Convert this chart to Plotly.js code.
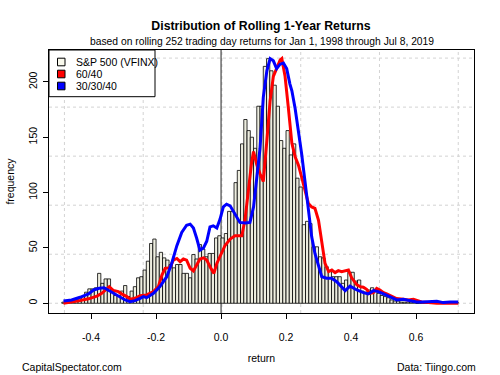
<!DOCTYPE html>
<html>
<head>
<meta charset="utf-8">
<script src="https://cdn.plot.ly/plotly-3.0.1.min.js"></script>
<style>html,body{margin:0;padding:0;background:#fff;}#chart{width:500px;height:375px;}</style>
</head>
<body>
<div id="chart"></div>
<script>
// Histogram bins (left edges, width 0.01) and S&P 500 (VFINX) counts
var binLeft = [
-0.49,-0.48,-0.47,-0.46,-0.45,-0.44,-0.43,-0.42,-0.41,-0.40,
-0.39,-0.38,-0.37,-0.36,-0.35,-0.34,-0.33,-0.32,-0.31,-0.30,
-0.29,-0.28,-0.27,-0.26,-0.25,-0.24,-0.23,-0.22,-0.21,-0.20,
-0.19,-0.18,-0.17,-0.16,-0.15,-0.14,-0.13,-0.12,-0.11,-0.10,
-0.09,-0.08,-0.07,-0.06,-0.05,-0.04,-0.03,-0.02,-0.01,0.00,
0.01,0.02,0.03,0.04,0.05,0.06,0.07,0.08,0.09,0.10,
0.11,0.12,0.13,0.14,0.15,0.16,0.17,0.18,0.19,0.20,
0.21,0.22,0.23,0.24,0.25,0.26,0.27,0.28,0.29,0.30,
0.31,0.32,0.33,0.34,0.35,0.36,0.37,0.38,0.39,0.40,
0.41,0.42,0.43,0.44,0.45,0.46,0.47,0.48,0.49,0.50,
0.51,0.52,0.53,0.54,0.55,0.56,0.57,0.58,0.59,0.60,
0.61,0.62,0.63,0.64,0.65,0.66,0.67,0.68,0.69,0.70,
0.71,0.72];
var spCounts = [
1,1,2,3,3,5,6,10,13,13,
14,27,18,22,22,12,7,7,11,16,
6,11,15,23,24,30,38,54,58,42,
46,41,39,35,32,35,35,27,27,23,
44,40,53,49,42,45,45,59,61,59,
63,83,83,109,120,144,166,156,150,140,
178,178,214,221,210,197,178,147,140,156,
134,144,113,105,71,74,72,51,51,42,
41,33,29,24,24,24,18,21,28,28,
20,21,11,10,12,14,12,9,7,6,
5,3,2,2,1,1,1,1,1,0,
0,0,0,0,0,0,0,0,0,0,
0,1];

// 60/40 portfolio frequency line
var r6040X = [-0.485,-0.46,-0.434,-0.408,-0.382,-0.367,-0.352,-0.344,-0.331,-0.316,-0.306,-0.29,-0.28,-0.265,-0.249,-0.229,-0.208,-0.193,-0.182,-0.172,-0.157,-0.147,-0.136,-0.126,-0.116,-0.106,-0.095,-0.085,-0.075,-0.065,-0.054,-0.044,-0.034,-0.022,-0.013,-0.003,0.012,0.028,0.043,0.058,0.064,0.074,0.084,0.094,0.1,0.11,0.12,0.13,0.141,0.151,0.161,0.171,0.182,0.187,0.197,0.207,0.218,0.228,0.238,0.248,0.258,0.269,0.279,0.289,0.3,0.31,0.32,0.331,0.341,0.351,0.361,0.371,0.382,0.392,0.402,0.418,0.428,0.438,0.448,0.458,0.469,0.479,0.489,0.5,0.51,0.525,0.54,0.561,0.576,0.592,0.602,0.617,0.638,0.664,0.695,0.73];
var r6040Y = [0,1,2.5,4,6.5,9,12.5,15,11.5,10.5,8.5,6,3.6,4.5,6.8,7.5,10.5,15,25.5,31.6,32.2,39,40.5,37.6,40,39,31.6,29.2,34.6,40,41,39,33,27,36,43,52,58,61,61,61,76,103,127,137,125,117,110,147,183,205,212,219.8,221,205,177,144.5,132.4,125,114,102,90,87,85.7,75,57,36,28.6,30,27.7,29.5,28.6,29,30,23,16.6,15,14.5,12.6,9,9.6,13.5,12,9.6,8.4,6,4.2,3.6,3,3.6,2.4,1.2,0.6,0,0,0];

// 30/30/40 portfolio frequency line
var r303040X = [-0.485,-0.46,-0.434,-0.408,-0.392,-0.375,-0.36,-0.342,-0.326,-0.311,-0.295,-0.28,-0.265,-0.249,-0.239,-0.229,-0.208,-0.188,-0.167,-0.152,-0.136,-0.121,-0.106,-0.095,-0.085,-0.075,-0.065,-0.054,-0.044,-0.034,-0.024,-0.013,-0.003,0.007,0.017,0.028,0.043,0.058,0.074,0.089,0.1,0.11,0.12,0.13,0.141,0.151,0.161,0.171,0.182,0.192,0.202,0.212,0.218,0.228,0.238,0.248,0.258,0.269,0.279,0.289,0.3,0.31,0.325,0.34,0.356,0.371,0.382,0.397,0.418,0.438,0.453,0.469,0.484,0.5,0.52,0.541,0.561,0.58,0.602,0.62,0.643,0.664,0.684,0.705,0.73];
var r303040Y = [2,3,5.4,8.5,12,13.5,14,11,8,6,3,1.5,2.4,4.5,6,5,9,15,24,36,52,64,70.5,71.5,68,58.7,48,50,56,69,70,68,76,87,89.5,88,81,73,72.5,73,87,113,140,186,210,221,219,212,216,217,212,198,192,176,156,135,111,84,60,45,33,24,22.6,22.6,19.5,15,11.4,15.5,12,9.6,8.4,11.4,10.5,8.4,5.4,3,3.6,2.4,1.2,1.2,1.2,1.8,0.6,1.2,1.2];

var xTickVals = [-0.4,-0.2,0,0.2,0.4,0.6];
var xTickText = ["-0.4","-0.2","0.0","0.2","0.4","0.6"];
var yTickVals = [0,50,100,150,200];
var yTickText = ["0","50","100","150","200"];
var gridX = [-0.482,-0.2396,0.0028,0.2452,0.4876,0.73];
var gridY = [0,44.3,88.6,132.9,177.2,221.5];

var legendNames = ["S&P 500 (VFINX)","60/40","30/30/40"];
var legendColors = ["#F8F8EC","#FF0000","#0000FF"];

var FONT = "Liberation Sans, Arial, sans-serif";

var traces = [
  {type:"bar", x:binLeft, y:spCounts, width:0.01, offset:0,
   marker:{color:"#EEEEE0", line:{color:"#000000", width:0.8}},
   showlegend:false, hoverinfo:"skip"},
  {type:"scatter", mode:"lines", x:r6040X, y:r6040Y,
   line:{color:"#FF0000", width:3}, showlegend:false},
  {type:"scatter", mode:"lines", x:r303040X, y:r303040Y,
   line:{color:"#0000FF", width:3}, showlegend:false}
];

var shapes = [];
gridX.forEach(function(v){
  shapes.push({type:"line", xref:"x", yref:"paper", x0:v, x1:v, y0:0, y1:1,
    line:{color:"#D3D3D3", width:1, dash:"dot"}, layer:"below"});
});
gridY.forEach(function(v){
  shapes.push({type:"line", xref:"paper", yref:"y", x0:0, x1:1, y0:v, y1:v,
    line:{color:"#D3D3D3", width:1, dash:"dot"}, layer:"below"});
});
shapes.push({type:"line", xref:"x", yref:"paper", x0:0, x1:0, y0:0, y1:1,
  line:{color:"#222222", width:1}, layer:"below"});

// manual legend (R-style)
var W = 425, H = 263;
shapes.push({type:"rect", xref:"paper", yref:"paper", x0:0, x1:106/W, y0:1-46.7/H, y1:1,
  line:{color:"#000000", width:1}, fillcolor:"#FFFFFF", layer:"above"});
var annotations = [];
var rowsY = [12, 24, 36];
for (var i=0;i<3;i++){
  var cy = 1 - rowsY[i]/H;
  shapes.push({type:"rect", xref:"paper", yref:"paper", x0:8.5/W, x1:16/W,
    y0:cy-3.8/H, y1:cy+3.8/H, line:{color:"#000000", width:1}, fillcolor:legendColors[i], layer:"above"});
  annotations.push({xref:"paper", yref:"paper", x:25/W, y:cy, xanchor:"left", yanchor:"middle",
    text:legendNames[i], showarrow:false, font:{family:FONT, size:10.5, color:"#000"}});
}
annotations.push({xref:"paper", yref:"paper", x:0.5, y:1+9/H, xanchor:"center", yanchor:"middle",
  text:"based on rolling 252 trading day returns for Jan 1, 1998 through Jul 8, 2019",
  showarrow:false, font:{family:FONT, size:10.3, color:"#000"}});
annotations.push({xref:"paper", yref:"paper", x:-29/W, y:-54/H, xanchor:"left", yanchor:"middle",
  text:"CapitalSpectator.com", showarrow:false, font:{family:FONT, size:10.5, color:"#000"}});
annotations.push({xref:"paper", yref:"paper", x:1+4/W, y:-54/H, xanchor:"right", yanchor:"middle",
  text:"Data: Tiingo.com", showarrow:false, font:{family:FONT, size:10.5, color:"#000"}});

var layout = {
  width:500, height:375,
  margin:{l:49, r:26, t:50, b:62},
  paper_bgcolor:"#FFFFFF", plot_bgcolor:"#FFFFFF",
  font:{family:FONT, size:10.5, color:"#000"},
  title:{text:"<b>Distribution of Rolling 1-Year Returns</b>", x:0.522, xanchor:"center",
    y:1-26/375, yanchor:"middle", yref:"container", font:{family:FONT, size:12.3, color:"#000"}},
  barmode:"overlay",
  showlegend:false,
  xaxis:{range:[-0.5295,0.7785], tickvals:xTickVals, ticktext:xTickText,
    showgrid:false, zeroline:false, showline:true, mirror:true, linecolor:"#000", linewidth:1,
    ticks:"outside", ticklen:5, tickcolor:"#000", tickfont:{family:FONT, size:10.5},
    ticklabelstandoff:9,
    title:{text:"return", font:{family:FONT, size:10.5}, standoff:13}},
  yaxis:{range:[-8.8,228.8], tickvals:yTickVals, ticktext:yTickText, tickangle:-90,
    showgrid:false, zeroline:false, showline:true, mirror:true, linecolor:"#000", linewidth:1,
    ticks:"outside", ticklen:5, tickcolor:"#000", tickfont:{family:FONT, size:10.5},
    ticklabelstandoff:2,
    title:{text:"frequency", font:{family:FONT, size:10.5}, standoff:10}},
  shapes:shapes,
  annotations:annotations
};

Plotly.newPlot("chart", traces, layout, {staticPlot:true, displayModeBar:false});
</script>
</body>
</html>
